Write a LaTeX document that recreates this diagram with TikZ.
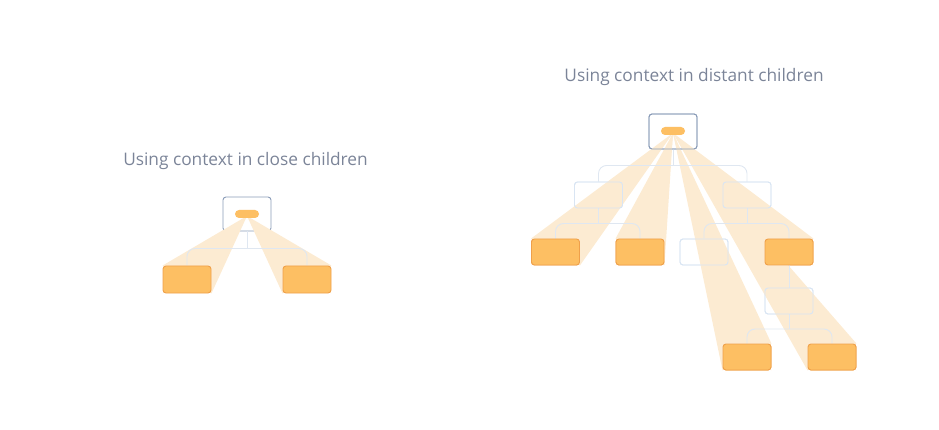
\documentclass[tikz,border=0pt]{standalone}
\usepackage{fontspec}
\setmainfont{Open Sans}
\usetikzlibrary{calc}
\definecolor{beam}{HTML}{FCEBD2}
\definecolor{orfill}{HTML}{FDBF63}
\definecolor{ordraw}{HTML}{EFA04A}
\definecolor{rootdraw}{HTML}{8A9CB8}
\definecolor{lightdraw}{HTML}{D9E5F3}
\definecolor{conncol}{HTML}{DFE7F1}
\definecolor{titlecol}{HTML}{7B8498}
\tikzset{
  rootbox/.style={draw=rootdraw, fill=white, line width=0.9pt, rounded corners=3pt, minimum width=48pt, minimum height=34pt, inner sep=0pt},
  orbox/.style={draw=ordraw, fill=orfill, line width=0.9pt, rounded corners=3pt, minimum width=48pt, minimum height=26pt, inner sep=0pt},
  lightbox/.style={draw=lightdraw, line width=0.9pt, rounded corners=3pt, minimum width=48pt, minimum height=26pt, inner sep=0pt},
  pill/.style={fill=orfill, rounded corners=4pt, minimum width=24pt, minimum height=8pt, inner sep=0pt},
  conn/.style={draw=conncol, line width=0.9pt, rounded corners=8pt},
  title/.style={text=titlecol, font=\fontsize{17.3}{20}\selectfont, inner sep=0pt},
}
\newcommand{\beamto}[2]{%
  \fill[beam] (#1) -- (#2.north west) -- (#2.south east) -- cycle;
  \fill[beam] (#1) -- (#2.north east) -- (#2.south west) -- cycle;}
\newcommand{\bracket}[3]{%
  \coordinate (m) at ($(#1.south)!0.5!(#2.north)$);
  \draw[conn] (#1.south) -- (#1.south |- m);
  \draw[conn] (#2.north) |- (m) -| (#3.north);}
\begin{document}
\begin{tikzpicture}[x=1pt,y=-1pt]
\useasboundingbox (0,0) rectangle (939,430);
% ---------- left tree ----------
\node[title] (t1) at (245.5,161) {Using context in close children};
\coordinate (la) at (247,216);
\node[orbox, minimum height=27pt, draw=none, fill=none] (lc1) at (187,279.5) {};
\node[orbox, minimum height=27pt, draw=none, fill=none] (lc2) at (307,279.5) {};
\node[rootbox] (lr) at (247,214) {};
\beamto{la}{lc1}
\beamto{la}{lc2}
\bracket{lr}{lc1}{lc2}
\node[orbox, minimum height=27pt] at (lc1) {};
\node[orbox, minimum height=27pt] at (lc2) {};
\node[pill] (lp) at (247,214) {};
% ---------- right tree ----------
\node[title] (t2) at (694,77) {Using context in distant children};
\coordinate (ra) at (673,133);
\node[rootbox, minimum height=35pt] (rr) at (673,131.5) {};
\node[lightbox] (a1) at (598.5,195) {};
\node[lightbox] (a2) at (747,195) {};
\node[orbox] (b1) at (555.5,252) {};
\node[orbox] (b2) at (640,252) {};
\node[lightbox] (b3) at (704,252) {};
\node[orbox] (b4) at (789,252) {};
\node[lightbox] (c1) at (789,301) {};
\node[orbox] (d1) at (747,357) {};
\node[orbox] (d2) at (832,357) {};
\beamto{ra}{b1}
\beamto{ra}{b2}
\beamto{ra}{b4}
\beamto{ra}{d1}
\beamto{ra}{d2}
\bracket{rr}{a1}{a2}
\bracket{a1}{b1}{b2}
\bracket{a2}{b3}{b4}
\bracket{c1}{d1}{d2}
\draw[conn] (b4.south) -- (c1.north);
\node[rootbox, minimum height=35pt, fill=none] at (rr) {};
\node[lightbox] at (a1) {};
\node[lightbox] at (a2) {};
\node[lightbox] at (b3) {};
\node[lightbox] at (c1) {};
\node[orbox] at (b1) {};
\node[orbox] at (b2) {};
\node[orbox] at (b4) {};
\node[orbox] at (d1) {};
\node[orbox] at (d2) {};
\node[pill] (rp) at (673,131) {};
\end{tikzpicture}
\end{document}
